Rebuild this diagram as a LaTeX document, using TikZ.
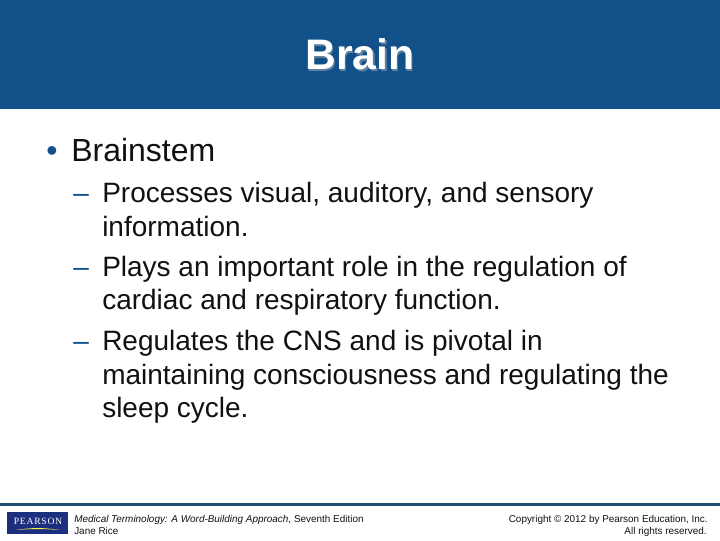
\documentclass[tikz,border=0pt]{standalone}
\usepackage{fontspec}
\setmainfont{Liberation Sans}
\definecolor{band}{HTML}{12508A}
\definecolor{rulec}{HTML}{1F4E73}
\definecolor{logo}{HTML}{1B2F7E}
\definecolor{shadowc}{HTML}{5F7F9F}
\definecolor{txt}{HTML}{111111}
\newfontfamily\logofont[LetterSpace=8]{Liberation Serif}
\tikzset{
 lvlone/.style={anchor=base west,inner sep=0,font=\fontsize{24}{24}\selectfont,text=txt},
 lvltwo/.style={anchor=base west,inner sep=0,font=\fontsize{21}{21}\selectfont,text=txt},
 foot/.style={inner sep=0,font=\fontsize{7.45}{8}\selectfont,text=txt},
 titletext/.style={inner sep=0,anchor=base,font=\fontsize{32}{32}\selectfont\bfseries}
}
\begin{document}
\begin{tikzpicture}[x=0.75pt,y=-0.75pt]
\useasboundingbox (0,0) rectangle (720,540);
\fill[white] (0,0) rectangle (720,540);
\fill[band] (0,0) rectangle (720,109);
\node[titletext,text=shadowc] (titleshadow) at (361.5,71) {Brain};
\node[titletext,text=white] (title) at (360,69) {Brain};
\node[lvlone,text=band] (b0) at (46,161) {•};
\node[lvlone] (b1) at (71,161) {Brainstem};
\node[lvltwo,text=band] (d1) at (73,202) {–};
\node[lvltwo] (l1) at (102,202) {Processes visual, auditory, and sensory};
\node[lvltwo] (l2) at (102,236) {information.};
\node[lvltwo,text=band] (d2) at (73,276) {–};
\node[lvltwo] (l3) at (102,276) {Plays an important role in the regulation of};
\node[lvltwo] (l4) at (102,309) {cardiac and respiratory function.};
\node[lvltwo,text=band] (d3) at (73,350) {–};
\node[lvltwo] (l5) at (102,350) {Regulates the CNS and is pivotal in};
\node[lvltwo] (l6) at (102,384) {maintaining consciousness and regulating the};
\node[lvltwo] (l7) at (102,417) {sleep cycle.};
\fill[rulec] (0,503) rectangle (720,506);
\fill[logo] (7,512) rectangle (68,534);
\node[inner sep=0,text=white,font=\fontsize{7.2}{8}\logofont] (logotext) at (38,521) {PEARSON};
\fill[yellow!70!white] (16,530) .. controls (30,527.5) and (45,527.5) .. (60,530) .. controls (45,528.7) and (30,528.7) .. (16,530);
\node[foot,anchor=base west] (f1) at (74,522) {\textit{Medical Terminology: A Word-Building Approach}, Seventh Edition};
\node[foot,anchor=base west] (f2) at (74,534) {Jane Rice};
\node[foot,anchor=base east] (f3) at (708,522) {Copyright © 2012 by Pearson Education, Inc.};
\node[foot,anchor=base east] (f4) at (707,534) {All rights reserved.};
\end{tikzpicture}
\end{document}
